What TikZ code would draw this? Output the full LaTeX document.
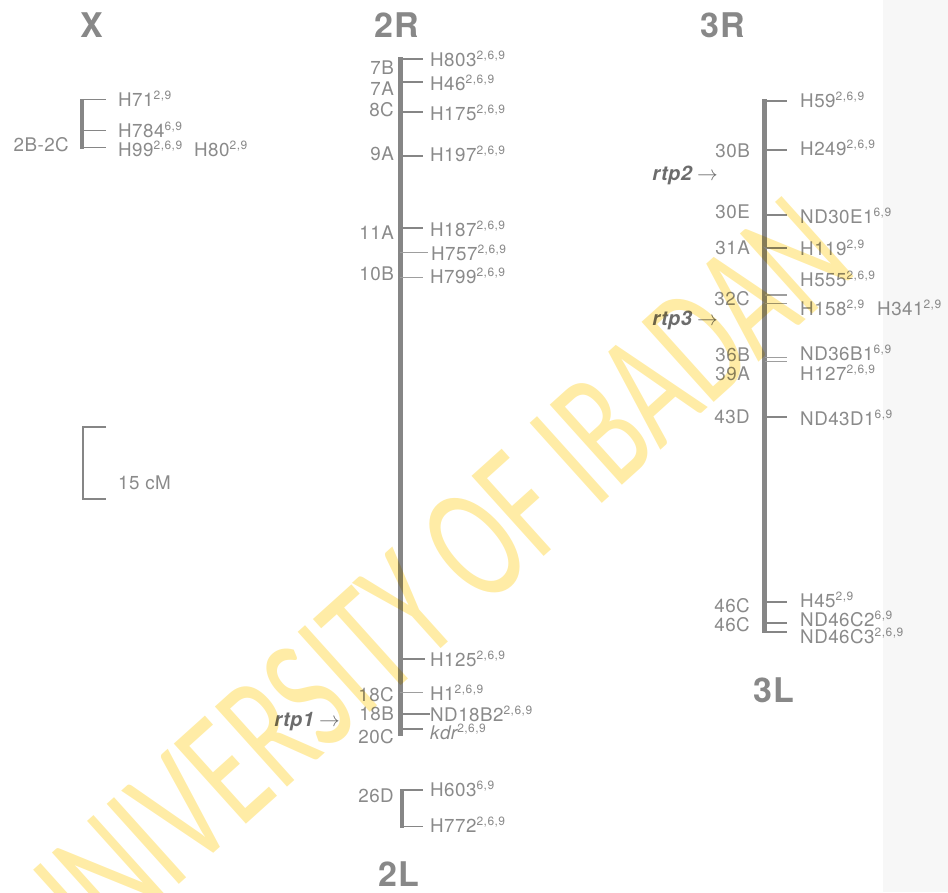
\documentclass[tikz,border=0pt]{standalone}
\usepackage{fontspec}
\usepackage{graphicx}
\usepackage{xcolor}
\usetikzlibrary{positioning}
\setmainfont{TeX Gyre Heros}
\newfontfamily\labfont[LetterSpace=2.5]{TeX Gyre Heros}
\newfontfamily\supfont[LetterSpace=4]{TeX Gyre Heros}
\newfontfamily\headfont[LetterSpace=3]{TeX Gyre Heros}
\newfontfamily\wmfont{Carlito}
\definecolor{labGray}{RGB}{138,138,138}
\definecolor{barGray}{RGB}{134,134,134}
\definecolor{headGray}{RGB}{136,136,136}
\definecolor{rtpGray}{RGB}{108,108,108}
\definecolor{stripGray}{RGB}{247,247,247}
\definecolor{wmYellow}{RGB}{255,236,166}
\newcommand\lab{\labfont\fontsize{18.8}{21}\selectfont}
\newcommand\head{\headfont\bfseries\fontsize{34}{36}\selectfont}
\newcommand\labsup[1]{\raisebox{6.8pt}{\supfont\fontsize{12}{12}\selectfont #1}}
\newcommand\rtp[1]{\textcolor{rtpGray}{\labfont\fontsize{20}{22}\selectfont\bfseries\itshape #1}\hspace{5pt}\textcolor{rtpGray}{\fontsize{20}{22}\selectfont$\rightarrow$}}

\begin{document}
\begin{tikzpicture}[
  x=1pt, y=-1pt,
  lab/.style={font=\lab, text=labGray, inner sep=0pt, anchor=base west},
  cyto/.style={font=\lab, text=labGray, inner sep=0pt, anchor=base east},
  head/.style={font=\head, text=headGray, inner sep=0pt, anchor=base},
  chrom/.style={draw=barGray, line width=5pt},
  tickline/.style={draw=barGray, line width=1.8pt},
  thintick/.style={draw=barGray!80, line width=1.2pt},
  scalebar/.style={draw=barGray, line width=1.5pt}
]
\useasboundingbox (0,0) rectangle (948,892);
\fill[stripGray] (883,0) rectangle (948,892);

% X
\node[head] (xhead) at (92,37) {X};
\draw[chrom, line width=4pt] (82,99) -- (82,148.5);
\draw[tickline] (82,99.5) -- (106,99.5);
\draw[tickline] (82,130.5) -- (106,130.5);
\draw[tickline] (82,147.5) -- (106,147.5);
\node[lab] (h71) at (118,106) {H71\labsup{2,9}};
\node[lab] (h784) at (118,137) {H784\labsup{6,9}};
\node[lab] (h99) at (118,156) {H99\labsup{2,6,9}};
\node[lab] (h80) at (194,156) {H80\labsup{2,9}};
\node[cyto] (c2b) at (69,151) {2B-2C};

% scale
\draw[scalebar] (106,427) -- (83,427) -- (83,499) -- (106,499);
\node[lab] (cm) at (118,489) {15 cM};

% 2R / 2L
\node[head] (head2r) at (397,37) {2R};
\draw[chrom] (400.5,57) -- (400.5,736);
\draw[tickline] (400,59) -- (423,59);
\draw[tickline] (400,82.3) -- (423,82.3);
\draw[tickline] (400,111.7) -- (423,111.7);
\draw[tickline] (400,156) -- (423,156);
\draw[tickline] (400,228.3) -- (423,228.3);
\draw[thintick] (400,252.7) -- (428,252.7);
\draw[thintick] (400,277.3) -- (423,277.3);
\draw[tickline] (400,659) -- (425,659);
\draw[thintick] (400,692.3) -- (423,692.3);
\draw[tickline] (400,714) -- (430,714);
\draw[tickline] (400,729.3) -- (423,729.3);
\node[lab] (h803) at (430,66.7) {H803\labsup{2,6,9}};
\node[lab] (h46) at (430,90) {H46\labsup{2,6,9}};
\node[lab] (h175) at (430,120) {H175\labsup{2,6,9}};
\node[lab] (h197) at (430,161.7) {H197\labsup{2,6,9}};
\node[lab] (h187) at (430,236.7) {H187\labsup{2,6,9}};
\node[lab] (h757) at (431,260) {H757\labsup{2,6,9}};
\node[lab] (h799) at (430,283.3) {H799\labsup{2,6,9}};
\node[lab] (h125) at (430,666.7) {H125\labsup{2,6,9}};
\node[lab] (h1) at (430,700) {H1\labsup{2,6,9}};
\node[lab] (nd18b2) at (430,721.7) {ND18B2\labsup{2,6,9}};
\node[lab] (kdr) at (430,739.3) {\itshape kdr\upshape\labsup{2,6,9}};
\node[cyto] (c7b) at (394,74.3) {7B};
\node[cyto] (c7a) at (394,95) {7A};
\node[cyto] (c8c) at (394,116) {8C};
\node[cyto] (c9a) at (394,160.7) {9A};
\node[cyto] (c11a) at (394,239) {11A};
\node[cyto] (c10b) at (394,280) {10B};
\node[cyto] (c18c) at (394,701) {18C};
\node[cyto] (c18b) at (394,720) {18B};
\node[cyto] (c20c) at (394,743.3) {20C};
\node[cyto] (rtp1) at (340,726) {\rtp{rtp1}};
\draw[chrom, line width=4.5pt] (402,789) -- (402,827.5);
\draw[tickline] (402,790) -- (423,790);
\draw[tickline] (402,826.5) -- (423,826.5);
\node[lab] (h603) at (430,796.7) {H603\labsup{6,9}};
\node[lab] (h772) at (430,832.7) {H772\labsup{2,6,9}};
\node[cyto] (c26d) at (394,802.7) {26D};
\node[head] (head2l) at (399,886) {2L};

% 3R / 3L
\node[head] (head3r) at (723,37) {3R};
\draw[chrom] (764.7,99.3) -- (764.7,632.7);
\draw[tickline] (765,100.7) -- (787,100.7);
\draw[tickline] (765,150) -- (787,150);
\draw[tickline] (765,215) -- (787,215);
\draw[tickline] (765,248.3) -- (787,248.3);
\draw[thintick] (765,295) -- (787,295);
\draw[thintick] (765,303.3) -- (787,303.3);
\draw[thintick] (765,357.3) -- (787,357.3);
\draw[thintick] (765,361.7) -- (787,361.7);
\draw[tickline] (765,416.7) -- (787,416.7);
\draw[tickline] (765,601.7) -- (787,601.7);
\draw[tickline] (765,622.7) -- (787,622.7);
\draw[tickline] (765,631.8) -- (787,631.8);
\node[lab] (h59) at (800,107.3) {H59\labsup{2,6,9}};
\node[lab] (h249) at (800,155) {H249\labsup{2,6,9}};
\node[lab] (nd30e1) at (800,223.3) {ND30E1\labsup{6,9}};
\node[lab] (h119) at (800,255) {H119\labsup{2,9}};
\node[lab] (h555) at (800,286.7) {H555\labsup{2,6,9}};
\node[lab] (h158) at (800,315) {H158\labsup{2,9}};
\node[lab] (h341) at (877,315) {H341\labsup{2,9}};
\node[lab] (nd36b1) at (800,360) {ND36B1\labsup{6,9}};
\node[lab] (h127) at (800,380) {H127\labsup{2,6,9}};
\node[lab] (nd43d1) at (800,425) {ND43D1\labsup{6,9}};
\node[lab] (h45) at (800,607.3) {H45\labsup{2,9}};
\node[lab] (nd46c2) at (800,626.7) {ND46C2\labsup{6,9}};
\node[lab] (nd46c3) at (800,643.3) {ND46C3\labsup{2,6,9}};
\node[cyto] (c30b) at (750,157.3) {30B};
\node[cyto] (c30e) at (750,218.3) {30E};
\node[cyto] (c31a) at (750,254) {31A};
\node[cyto] (c32c) at (750,305) {32C};
\node[cyto] (c36b) at (750,361.7) {36B};
\node[cyto] (c39a) at (750,380) {39A};
\node[cyto] (c43d) at (750,423.3) {43D};
\node[cyto] (c46c) at (750,612.3) {46C};
\node[cyto] (c46cb) at (750,631.7) {46C};
\node[cyto] (rtp2) at (718,180) {\rtp{rtp2}};
\node[cyto] (rtp3) at (718,325) {\rtp{rtp3}};
\node[head] (head3l) at (774,702) {3L};

% watermark
\begin{scope}[blend mode=multiply]
\node[rotate=42, text=wmYellow, inner sep=0pt] (wm) at (427,589)
  {\scalebox{0.665}[1]{\wmfont\fontsize{168}{170}\selectfont UNIVERSITY OF IBADAN}};
\end{scope}
\end{tikzpicture}
\end{document}
